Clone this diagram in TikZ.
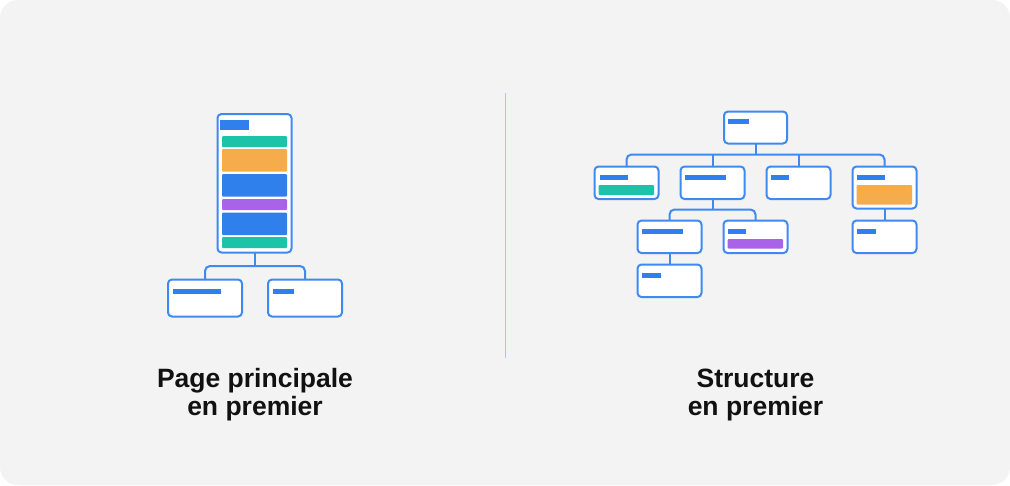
\documentclass[tikz,border=0pt]{standalone}
\usepackage{fontspec}
\setmainfont{Liberation Sans}
\usetikzlibrary{fit}
\definecolor{bgc}{HTML}{F3F3F3}
\definecolor{strokec}{HTML}{3F8AF1}
\definecolor{barblue}{HTML}{2F80EC}
\definecolor{tealc}{HTML}{1BC4A8}
\definecolor{orangec}{HTML}{F7AC4C}
\definecolor{purplec}{HTML}{A863E9}
\definecolor{divc}{HTML}{A7C7F6}
\definecolor{textc}{HTML}{111111}
\tikzset{
  box/.style={draw=strokec, line width=2pt, fill=white, rounded corners=4pt, inner sep=0pt, outer sep=0pt},
  bar/.style={fill=#1, draw=none, rounded corners=1pt, inner sep=0pt, outer sep=0pt},
  conn/.style={draw=strokec, line width=2pt, rounded corners=5pt},
  title/.style={font=\fontsize{26.5}{30}\selectfont\bfseries, text=textc, anchor=base, inner sep=0pt},
}
\begin{document}
\begin{tikzpicture}[x=1pt,y=-1pt]
\useasboundingbox (0,0) rectangle (1010,485);
\fill[white] (0,0) rectangle (1010,485);
\fill[bgc, rounded corners=18pt] (0,0) rectangle (1010,485);
\draw[divc, line width=1pt] (505,93) -- (505,358);

% ---- left: page first ----
\node[box, fit={(217.5,114) (291.5,252.5)}] (phone) {};
\node[bar=barblue, rounded corners=0pt, fit={(219.5,120) (249,130)}] (ph0) {};
\node[bar=tealc, fit={(222,136) (287,147)}] (ph1) {};
\node[bar=orangec, fit={(222,149) (287,171.5)}] (ph2) {};
\node[bar=barblue, fit={(222,174) (287,196.5)}] (ph3) {};
\node[bar=purplec, fit={(222,199) (287,210)}] (ph4) {};
\node[bar=barblue, fit={(222,212.5) (287,235)}] (ph5) {};
\node[bar=tealc, fit={(222,237) (287,248)}] (ph6) {};

\node[box, fit={(168,279.5) (242,316.5)}] (lc) {};
\node[bar=barblue, rounded corners=0pt, fit={(172.5,288.5) (221,294)}] (lcb) {};
\node[box, fit={(268,279.5) (342,316.5)}] (rc) {};
\node[bar=barblue, rounded corners=0pt, fit={(272.5,288.5) (294,294)}] (rcb) {};

\draw[conn] (phone.south) -- ++(0,13.5) coordinate (j1);
\draw[conn] (lc.north) |- (j1) -| (rc.north);

\node[title] (t1a) at (255,387) {Page principale};
\node[title] (t1b) at (255,415) {en premier};

% ---- right: structure first ----
\node[box, fit={(724,111.5) (787,143.5)}] (root) {};
\node[bar=barblue, rounded corners=0pt, fit={(727.5,118.5) (749,123.5)}] (rootb) {};

\node[box, fit={(594.5,166.5) (658.5,199)}] (na) {};
\node[bar=barblue, rounded corners=0pt, fit={(599.5,174.5) (628,179.5)}] (nab) {};
\node[bar=tealc, fit={(598.5,185) (654,195)}] (nat) {};

\node[box, fit={(680.5,166.5) (744.5,199)}] (nb) {};
\node[bar=barblue, rounded corners=0pt, fit={(684.5,174.5) (726,179.5)}] (nbb) {};

\node[box, fit={(766.5,166.5) (830.5,199)}] (nc) {};
\node[bar=barblue, rounded corners=0pt, fit={(770.5,174.5) (789,179.5)}] (ncb) {};

\node[box, fit={(852.5,166.5) (916.5,208.5)}] (nd) {};
\node[bar=barblue, rounded corners=0pt, fit={(856.5,174.5) (884.5,179.5)}] (ndb) {};
\node[bar=orangec, fit={(856.5,185) (912,204.5)}] (ndo) {};

\node[box, fit={(637.5,220.5) (701.5,253)}] (ne) {};
\node[bar=barblue, rounded corners=0pt, fit={(641.5,228.5) (683,233.5)}] (neb) {};

\node[box, fit={(723.5,220.5) (787.5,253)}] (nf) {};
\node[bar=barblue, rounded corners=0pt, fit={(727.5,228.5) (746,233.5)}] (nfb) {};
\node[bar=purplec, fit={(727.5,239) (783,248.5)}] (nfp) {};

\node[box, fit={(852.5,220.5) (916.5,253)}] (ng) {};
\node[bar=barblue, rounded corners=0pt, fit={(856.5,228.5) (875.5,233.5)}] (ngb) {};

\node[box, fit={(637.5,264.5) (701.5,297)}] (nh) {};
\node[bar=barblue, rounded corners=0pt, fit={(641.5,272.5) (660.5,277.5)}] (nhb) {};

% connectors
\draw[conn] (root.south) -- ++(0,11) coordinate (j2);
\draw[conn] (na.north) |- (j2) -| (nd.north);
\draw[conn] (nb.north) -- (nb.north |- j2);
\draw[conn] (nc.north) -- (nc.north |- j2);
\draw[conn] (nb.south) -- ++(0,10.5) coordinate (j3);
\draw[conn] (ne.north) |- (j3) -| (nf.north);
\draw[conn] (nd.south) -- (ng.north);
\draw[conn] (ne.south) -- (nh.north);

\node[title] (t2a) at (755.5,387) {Structure};
\node[title] (t2b) at (755.5,415) {en premier};
\end{tikzpicture}
\end{document}
